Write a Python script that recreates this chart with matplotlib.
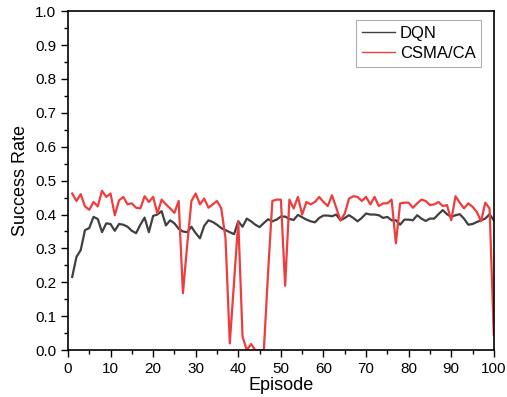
import numpy as np
import matplotlib
matplotlib.use('Agg')
import matplotlib.pyplot as plt
from matplotlib.ticker import MultipleLocator

plt.rcParams['font.family'] = ['Liberation Sans', 'DejaVu Sans']

# Data
episodes = list(range(1, 101))

dqn = [0.216, 0.275, 0.295, 0.354, 0.36, 0.393, 0.387, 0.348, 0.374, 0.372,
       0.352, 0.372, 0.37, 0.364, 0.352, 0.345, 0.37, 0.391, 0.348, 0.396,
       0.40, 0.41, 0.368, 0.383, 0.374, 0.358, 0.35, 0.348, 0.364, 0.345,
       0.33, 0.367, 0.383, 0.378, 0.37, 0.36, 0.354, 0.348, 0.342, 0.38,
       0.364, 0.388, 0.38, 0.37, 0.363, 0.375, 0.386, 0.38, 0.385, 0.394,
       0.394, 0.387, 0.384, 0.399, 0.392, 0.385, 0.38, 0.377, 0.39, 0.397,
       0.397, 0.395, 0.40, 0.383, 0.39, 0.398, 0.39, 0.38, 0.39, 0.403,
       0.40, 0.40, 0.398, 0.39, 0.393, 0.383, 0.383, 0.37, 0.385, 0.385,
       0.383, 0.398, 0.388, 0.381, 0.388, 0.388, 0.401, 0.413, 0.401, 0.393,
       0.398, 0.401, 0.388, 0.37, 0.372, 0.378, 0.383, 0.388, 0.401, 0.383]

csma = [0.462, 0.44, 0.46, 0.424, 0.414, 0.437, 0.424, 0.47, 0.452, 0.462,
        0.398, 0.442, 0.452, 0.43, 0.433, 0.42, 0.418, 0.454, 0.437, 0.452,
        0.403, 0.444, 0.43, 0.418, 0.405, 0.44, 0.168, 0.31, 0.44, 0.462,
        0.43, 0.447, 0.42, 0.43, 0.44, 0.418, 0.33, 0.02, 0.2, 0.38,
        0.04, 0.0, 0.018, 0.0, 0.0, 0.0, 0.23, 0.44, 0.444, 0.444,
        0.19, 0.444, 0.418, 0.452, 0.40, 0.437, 0.43, 0.437, 0.452, 0.437,
        0.425, 0.457, 0.42, 0.383, 0.403, 0.447, 0.454, 0.452, 0.44, 0.452,
        0.43, 0.452, 0.425, 0.433, 0.433, 0.444, 0.315, 0.433, 0.435, 0.435,
        0.42, 0.433, 0.444, 0.44, 0.428, 0.43, 0.437, 0.425, 0.428, 0.383,
        0.454, 0.435, 0.418, 0.433, 0.423, 0.408, 0.38, 0.435, 0.418, 0.045]

fig = plt.figure(figsize=(5.07, 3.97), dpi=100)
ax = fig.add_axes([0.134, 0.118, 0.840, 0.854])

ax.plot(episodes, dqn, color='#404040', lw=1.6, label='DQN')
ax.plot(episodes, csma, color='#f03c3c', lw=1.6, label='CSMA/CA')

ax.set_xlim(0, 100)
ax.set_ylim(0, 1.0)
ax.xaxis.set_major_locator(MultipleLocator(10))
ax.xaxis.set_minor_locator(MultipleLocator(5))
ax.yaxis.set_major_locator(MultipleLocator(0.1))
ax.yaxis.set_minor_locator(MultipleLocator(0.05))
ax.yaxis.set_major_formatter(plt.FormatStrFormatter('%.1f'))
ax.tick_params(which='both', direction='out', top=False, right=False, labelsize=11)
ax.tick_params(which='major', length=5, width=1)
ax.tick_params(which='minor', length=3, width=1)
for s in ax.spines.values():
    s.set_linewidth(1.2)

ax.set_xlabel('Episode', fontsize=13, labelpad=1)
ax.set_ylabel('Success Rate', fontsize=13, labelpad=4)

leg = ax.legend(loc='upper right', bbox_to_anchor=(0.971, 0.973), borderaxespad=0,
                fontsize=12, fancybox=False, edgecolor='#999999', handlelength=2.0,
                handletextpad=0.3, borderpad=0.35, labelspacing=0.3)
leg.get_frame().set_linewidth(0.8)
for line in leg.get_lines():
    line.set_linewidth(1.0)

fig.savefig('out.png', dpi=100)
